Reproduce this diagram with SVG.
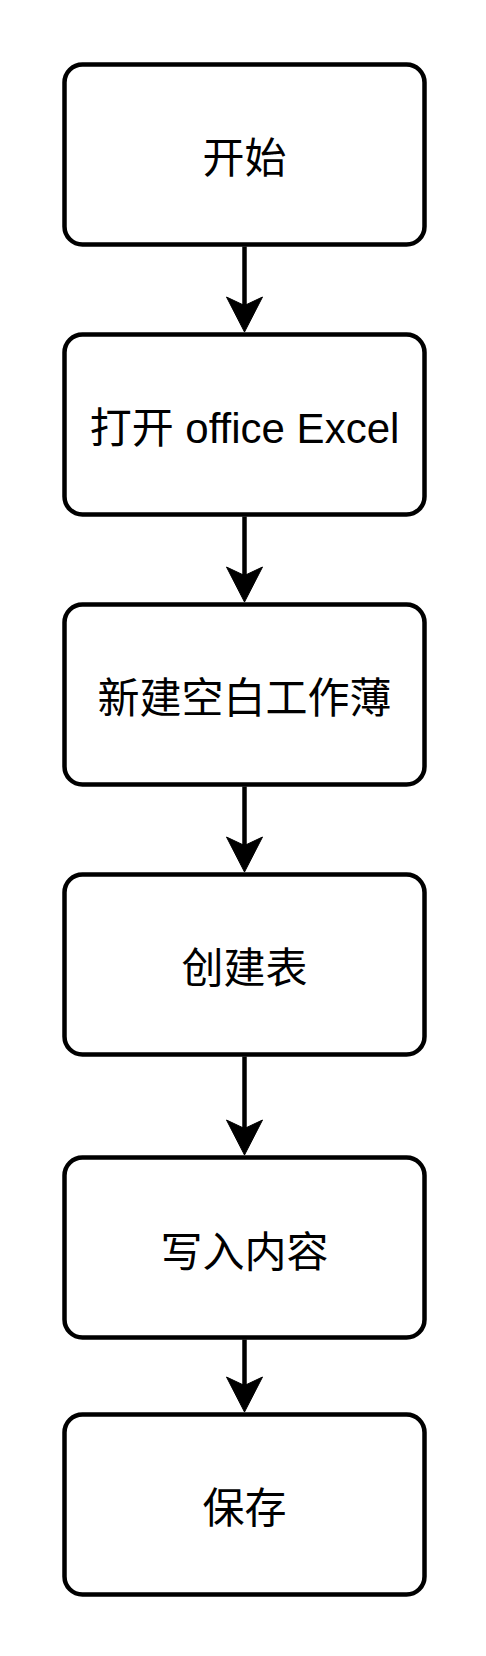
<svg xmlns="http://www.w3.org/2000/svg" xmlns:xlink="http://www.w3.org/1999/xlink" width="486" height="1656" viewBox="0 0 486 1656">
  <style>
    .box { fill: #ffffff; stroke: #000000; stroke-width: 4.5; }
    .lbl { font-family: "Liberation Sans", "Noto Sans CJK SC", sans-serif; font-size: 42px; fill: #000000; text-anchor: middle; }
    .edge { stroke: #000000; stroke-width: 4.5; fill: none; }
    .head { fill: #000000; stroke: #000000; stroke-width: 1; stroke-linejoin: miter; }
  </style>
  <defs>
    <path id="ah" class="head" d="M0,0 L-18,-35 L0,-26.5 L18,-35 Z"/>
  </defs>
  <rect width="486" height="1656" fill="#ffffff"/>

  <g id="connectors">
    <line class="edge" x1="244.5" y1="246.5" x2="244.5" y2="307"/>
    <use xlink:href="#ah" x="244.5" y="332"/>
    <line class="edge" x1="244.5" y1="516.5" x2="244.5" y2="577"/>
    <use xlink:href="#ah" x="244.5" y="602"/>
    <line class="edge" x1="244.5" y1="786.5" x2="244.5" y2="847"/>
    <use xlink:href="#ah" x="244.5" y="872"/>
    <line class="edge" x1="244.5" y1="1056.5" x2="244.5" y2="1130"/>
    <use xlink:href="#ah" x="244.5" y="1155"/>
    <line class="edge" x1="244.5" y1="1339.5" x2="244.5" y2="1387"/>
    <use xlink:href="#ah" x="244.5" y="1412"/>
  </g>

  <g id="node-start">
    <rect class="box" x="64.5" y="64.5" width="360" height="180" rx="18" ry="18"/>
    <text class="lbl" x="244.5" y="173">开始</text>
  </g>
  <g id="node-open-excel">
    <rect class="box" x="64.5" y="334.5" width="360" height="180" rx="18" ry="18"/>
    <text class="lbl" x="244.5" y="443">打开 office Excel</text>
  </g>
  <g id="node-new-workbook">
    <rect class="box" x="64.5" y="604.5" width="360" height="180" rx="18" ry="18"/>
    <text class="lbl" x="244.5" y="713">新建空白工作薄</text>
  </g>
  <g id="node-create-table">
    <rect class="box" x="64.5" y="874.5" width="360" height="180" rx="18" ry="18"/>
    <text class="lbl" x="244.5" y="983">创建表</text>
  </g>
  <g id="node-write-content">
    <rect class="box" x="64.5" y="1157.5" width="360" height="180" rx="18" ry="18"/>
    <text class="lbl" x="244.5" y="1267">写入内容</text>
  </g>
  <g id="node-save">
    <rect class="box" x="64.5" y="1414.5" width="360" height="180" rx="18" ry="18"/>
    <text class="lbl" x="244.5" y="1523">保存</text>
  </g>
</svg>
